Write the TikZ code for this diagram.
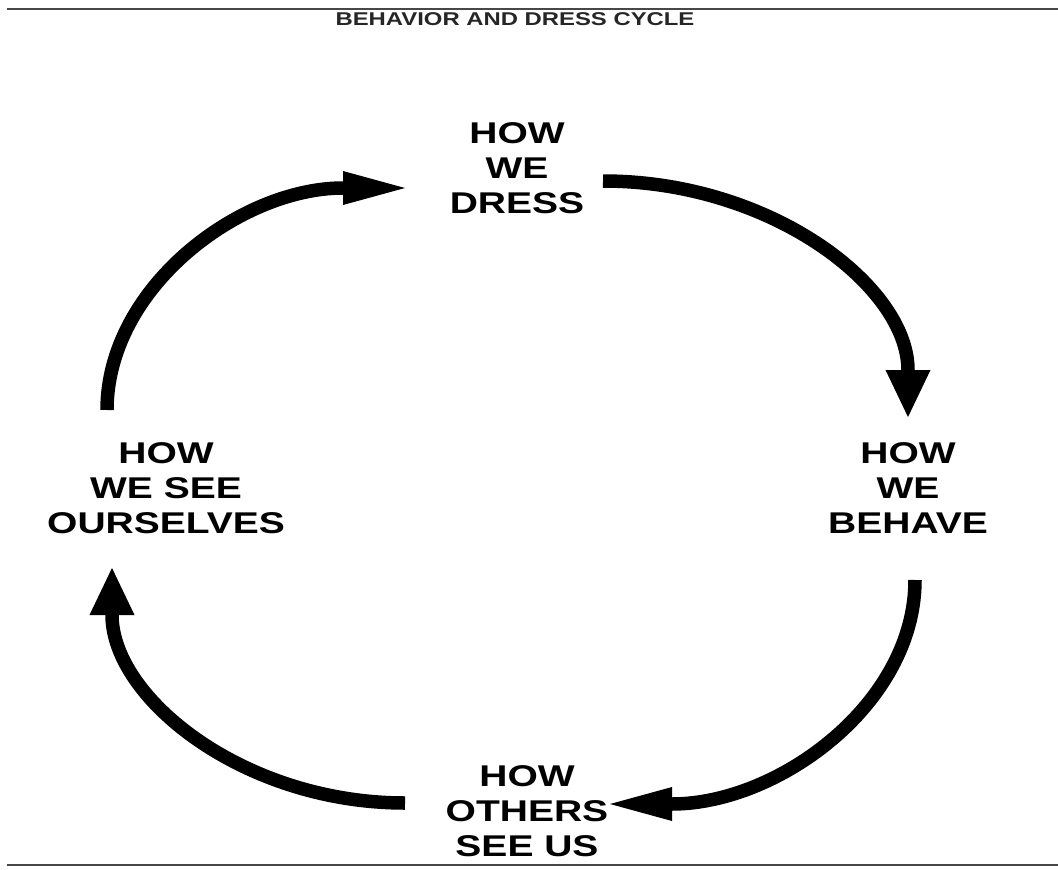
\documentclass[tikz,border=0pt]{standalone}
\usepackage{fontspec}
\setmainfont{Liberation Sans}
\usetikzlibrary{arrows.meta}
\begin{document}
\begin{tikzpicture}[x=1pt,y=-1pt,
  lbl/.style={font=\bfseries\fontsize{30}{35}\selectfont, align=center, inner sep=0pt, xscale=1.3, text=black},
  ttl/.style={font=\bfseries\fontsize{18.5}{20}\selectfont, inner sep=0pt, xscale=1.29, text=black!85},
  cyc/.style={line width=13.5pt, draw=black},
  hh/.style={-{Triangle[length=62pt,width=34pt,line width=0pt]}},
  vh/.style={-{Triangle[length=47pt,width=45pt,line width=0pt]}},
  rulestyle/.style={line width=2.2pt, draw=black!72}]
\useasboundingbox (0,0) rectangle (1058,870);
\fill[white] (0,0) rectangle (1058,870);
% rules
\coordinate (tl) at (7,9);
\coordinate (tr) at (1058,9);
\coordinate (bl) at (7,865);
\coordinate (br) at (1058,865);
\draw[rulestyle] (tl) -- (tr);
\draw[rulestyle] (bl) -- (br);
% title
\node[ttl] (title) at (515,19) {BEHAVIOR AND DRESS CYCLE};
% labels
\node[lbl] (dress) at (517,168) {HOW\\WE\\DRESS};
\node[lbl] (behave) at (908,488) {HOW\\WE\\BEHAVE};
\node[lbl] (others) at (527,811) {HOW\\OTHERS\\SEE US};
\node[lbl] (selves) at (166,488) {HOW\\WE SEE\\OURSELVES};
% arrow end points
\coordinate (s1) at (107,410);
\coordinate (e1) at (405,188);
\coordinate (s2) at (603,181);
\coordinate (e2) at (908,417);
\coordinate (s3) at (915,580);
\coordinate (e3) at (610,804);
\coordinate (s4) at (405,803);
\coordinate (e4) at (112,568);
% arrows
\draw[cyc,hh] (s1) .. controls (107,287.4) and (240.4,188) .. (e1);
\draw[cyc,vh] (s2) .. controls (771.4,181) and (908,286.7) .. (e2);
\draw[cyc,hh] (s3) .. controls (915,703.7) and (778.4,804) .. (e3);
\draw[cyc,vh] (s4) .. controls (243.2,803) and (112,697.8) .. (e4);
\end{tikzpicture}
\end{document}
